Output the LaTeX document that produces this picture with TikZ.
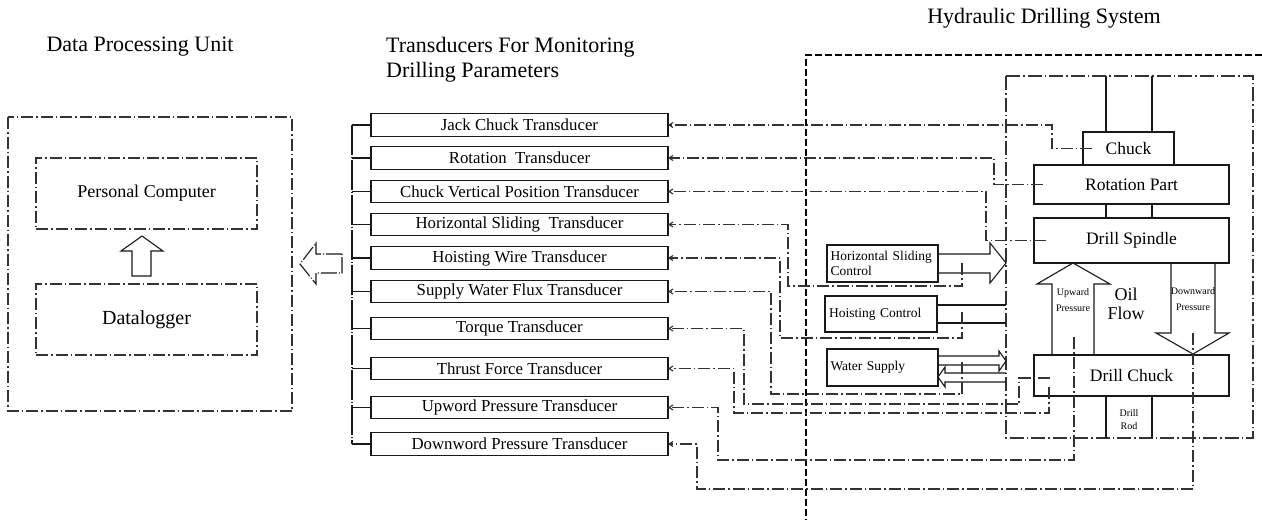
\documentclass[tikz,border=0pt]{standalone}
\usepackage{fontspec}
\setmainfont{Liberation Serif}
\usetikzlibrary{arrows.meta}
\begin{document}
\begin{tikzpicture}[x=1pt,y=-1pt,
  box/.style={draw=black!90, line width=1.1pt, inner sep=0pt, outer sep=0pt},
  tbox/.style={box, minimum width=297pt, minimum height=22.5pt, font=\fontsize{16.8}{18}\selectfont},
  hbox/.style={box, minimum width=195pt, font=\fontsize{17.5}{20}\selectfont},
  cbox/.style={box, font=\fontsize{13.5}{15.5}\selectfont, align=left, text width=104pt, minimum width=111pt},
  ddash/.style={dash pattern=on 12pt off 3pt on 1.5pt off 3pt},
  conn/.style={draw=black!80, line width=1.1pt, ddash, -{Straight Barb[length=4pt,width=5pt]}},
  dpbox/.style={draw=black!80, line width=1.1pt, ddash, inner sep=0pt, outer sep=0pt},
  plain/.style={draw=black!90, line width=1.1pt},
  big/.style={draw=black, line width=2pt, dash pattern=on 7pt off 3pt},
  title/.style={font=\fontsize{22}{25}\selectfont, inner sep=0pt},
  tiny/.style={font=\fontsize{10}{16}\selectfont, align=center, inner sep=0pt}
]
\useasboundingbox (0,0) rectangle (1262,520);

% ---------- titles ----------
\node[title] (tDPU) at (140,47) {Data Processing Unit};
\node[title, align=left, anchor=west] (tTR) at (386,59.5) {Transducers For Monitoring\\Drilling Parameters};
\node[title] (tHDS) at (1044,18) {Hydraulic Drilling System};

% ---------- data processing unit ----------
\draw[dpbox] (8,117) rectangle (292,411);
\node[dpbox, minimum width=221pt, minimum height=71pt, font=\fontsize{18}{20}\selectfont] (pc) at (146.5,193.5) {Personal Computer};
\node[dpbox, minimum width=221pt, minimum height=71pt, font=\fontsize{20}{22}\selectfont] (dl) at (146.5,319.5) {Datalogger};
\draw[plain] (132,276) -- (132,251) -- (121,251) -- (142,236) -- (163,251) -- (151,251) -- (151,276) -- cycle;
\draw[plain, dash pattern=on 16pt off 2pt on 1pt off 2pt] (342,254) -- (316,254) -- (316,243) -- (300,264) -- (316,284) -- (316,273) -- (342,273) -- cycle;

% ---------- transducers ----------
\node[tbox] (t1) at (519.5,125) {Jack Chuck Transducer};
\node[tbox] (t2) at (519.5,158) {Rotation\ \ Transducer};
\node[tbox] (t3) at (519.5,191.5) {Chuck Vertical Position Transducer};
\node[tbox] (t4) at (519.5,224.5) {Horizontal Sliding\ \ Transducer};
\node[tbox] (t5) at (519.5,258) {Hoisting Wire Transducer};
\node[tbox] (t6) at (519.5,291.5) {Supply Water Flux Transducer};
\node[tbox] (t7) at (519.5,328.5) {Torque Transducer};
\node[tbox] (t8) at (519.5,368.5) {Thrust Force Transducer};
\node[tbox] (t9) at (519.5,407.5) {Upword Pressure Transducer};
\node[tbox] (t10) at (519.5,444) {Downword Pressure Transducer};

\coordinate (busTop) at (352,125);
\coordinate (busBot) at (352,444);
\draw[plain, dash pattern=on 30pt off 2pt on 1pt off 2pt] (busTop) -- (busBot);
\foreach \i in {1,...,10} { \draw[plain] (t\i.west) -- (t\i.west -| busTop); }

% ---------- hydraulic drilling system ----------
\draw[big] (1262,55) -- (806,55) -- (806,520);
\draw[dpbox, dash pattern=on 14pt off 3pt on 1.5pt off 3pt] (1006,76) rectangle (1253,438);

\node[box, minimum width=91pt, minimum height=33pt, font=\fontsize{17.5}{20}\selectfont] (chuck) at (1128.5,148.5) {Chuck};
\node[hbox, minimum height=39pt] (rot) at (1131.5,184.5) {Rotation Part};
\node[hbox, minimum height=45pt] (spin) at (1131.5,240.5) {Drill Spindle};
\node[hbox, minimum height=41pt] (dchuck) at (1131.5,375.5) {Drill Chuck};

\draw[plain] (1106,76) -- (chuck.north -| 1106,0);
\draw[plain] (1152,76) -- (chuck.north -| 1152,0);
\draw[plain] (rot.south -| 1106,0) -- (spin.north -| 1106,0);
\draw[plain] (rot.south -| 1152,0) -- (spin.north -| 1152,0);
\draw[plain] (dchuck.south -| 1106,0) -- (1106,438);
\draw[plain] (dchuck.south -| 1152,0) -- (1152,438);
\node[tiny, font=\fontsize{10}{13}\selectfont] (rod) at (1129,419.5) {Drill\\Rod};

% oil flow arrows
\draw[plain] (1052,355) -- (1052,284) -- (1037,284) -- (1073,263) -- (1110,284) -- (1094,284) -- (1094,355);
\draw[plain] (1171,263) -- (1171,333) -- (1156,333) -- (1193,354) -- (1229,333) -- (1215,333) -- (1215,263);
\node[tiny] (up) at (1073,300) {Upward\\Pressure};
\node[tiny] (down) at (1193,299) {Downward\\Pressure};
\node[font=\fontsize{18}{19}\selectfont, align=center, inner sep=0pt] (oil) at (1126,304) {Oil\\Flow};

% controls
\node[cbox, minimum height=37pt] (hsc) at (882.5,263.5) {\mbox{Horizontal Sliding}\\Control};
\node[cbox, minimum height=36pt, minimum width=112pt] (hc) at (881,314) {Hoisting Control};
\node[cbox, minimum height=37pt] (ws) at (882.5,367.5) {Water Supply};

\draw[plain] (hsc.east |- 0,254) -- (990,254) -- (990,243) -- (1006,263) -- (990,283) -- (990,273) -- (hsc.east |- 0,273);
\draw[plain] (hc.east |- 0,305) -- (1006,305);
\draw[plain] (hc.east |- 0,323) -- (1006,323);
\draw[plain] (ws.east |- 0,356) -- (999,356) -- (999,351) -- (1006,361) -- (999,371) -- (999,365) -- (ws.east |- 0,365);
\draw[plain] (1006,373) -- (945,373) -- (945,367) -- (ws.east |- 0,377) -- (945,387) -- (945,382) -- (1006,382);

% ---------- connectors to transducers ----------
\coordinate (hsT) at (962,263);
\coordinate (hcT) at (962,312);
\coordinate (wsT) at (962,362);
\coordinate (tqT) at (1050,378);
\coordinate (thT) at (1049,387);
\coordinate (upT) at (1074,337);
\coordinate (dnT) at (1193,333);

\draw[conn] ([xshift=9pt]chuck.west) -- ++(-40,0) |- (t1.east);
\draw[conn] ([xshift=9pt]rot.west) -- ++(-49,0) |- (t2.east);
\draw[conn] ([xshift=12pt]spin.west) -- ++(-60,0) |- (t3.east);
\draw[conn] (hsT) |- (788,286) |- (t4.east);
\draw[conn] (hcT) |- (780,338) |- (t5.east);
\draw[conn] (wsT) |- (771,394) |- (t6.east);
\draw[conn] (tqT) -| (1019,404) -- (744,404) |- (t7.east);
\draw[conn] (thT) |- (734,413) |- (t8.east);
\draw[conn] (upT) |- (718,460) |- (t9.east);
\draw[conn] (dnT) |- (697,489) |- (t10.east);
\end{tikzpicture}
\end{document}
